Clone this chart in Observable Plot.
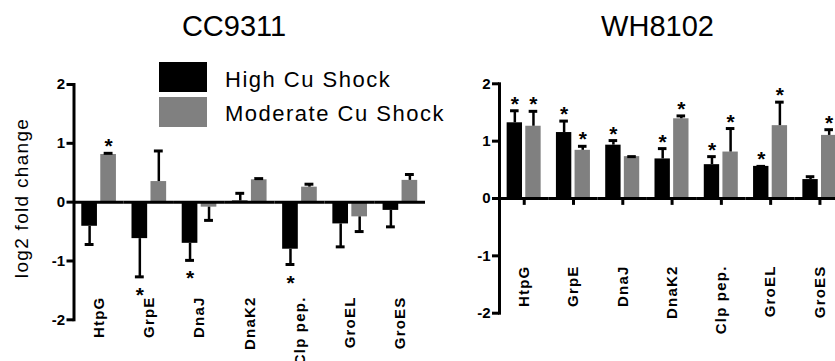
<!DOCTYPE html>
<html><head><meta charset="utf-8">
<script src="https://cdn.jsdelivr.net/npm/d3@7"></script>
<script src="https://cdn.jsdelivr.net/npm/@observablehq/plot@0.6"></script>
<style>
html,body{margin:0;padding:0;background:#fff;overflow:hidden;width:835px;height:361px}
#root{position:relative;width:835px;height:361px;font-family:"Liberation Sans",Arial,Helvetica,sans-serif;color:#000;overflow:hidden}
.title{position:absolute;width:240px;text-align:center;font-size:29px;line-height:29px;top:11.5px;white-space:nowrap}
.sw{position:absolute;left:159px;width:48px;height:30px;box-sizing:border-box}
.lt{position:absolute;left:225px;font-size:22px;line-height:22px;letter-spacing:1.5px;white-space:nowrap;z-index:2}
.ylab{position:absolute;width:200px;height:24px;line-height:24px;font-size:19px;letter-spacing:1.3px;text-align:center;transform:rotate(-90deg);white-space:nowrap}
svg.panel{position:absolute;top:50px}
</style></head>
<body><div id="root"></div>
<script>
const genes = ["HtpG", "GrpE", "DnaJ", "DnaK2", "Clp pep.", "GroEL", "GroES"];
const series = ["High Cu Shock", "Moderate Cu Shock"];
const colors = ["#000000", "#808080"];
const yTicks = [-2, -1, 0, 1, 2];
const yLabel = "log2 fold change";
const titles = ["CC9311", "WH8102"];

// CC9311
const ccHigh = [-0.41, -0.62, -0.70, 0.02, -0.80, -0.37, -0.14];
const ccHighErr = [0.31, 0.65, 0.29, 0.13, 0.26, 0.39, 0.28];
const ccMod = [0.81, 0.35, -0.085, 0.38, 0.255, -0.25, 0.37];
const ccModErr = [0.02, 0.52, 0.225, 0.02, 0.05, 0.25, 0.10];
const ccHighSig = [false, true, true, false, true, false, false];
const ccModSig = [true, false, false, false, false, false, false];

// WH8102
const whHigh = [1.32, 1.15, 0.93, 0.69, 0.59, 0.56, 0.33];
const whHighErr = [0.21, 0.20, 0.08, 0.18, 0.14, 0.0, 0.05];
const whMod = [1.26, 0.84, 0.73, 1.39, 0.81, 1.27, 1.10];
const whModErr = [0.26, 0.07, 0.0, 0.05, 0.41, 0.41, 0.10];
const whHighSig = [true, true, true, true, true, true, false];
const whModSig = [true, true, false, true, true, true, true];

const FONT = '"Liberation Sans", Arial, Helvetica, sans-serif';
const root = document.getElementById("root");
const groupTickDepth = 0.12; // depth of the category ticks below the zero line, in axis units

function panel(p) {
  const rows = [];
  genes.forEach((g, i) => {
    series.forEach((s, j) => {
      const v = p.values[j][i], e = p.errs[j][i];
      rows.push({gene: g, series: s, value: v, end: v >= 0 ? v + e : v - e, sig: p.sigs[j][i]});
    });
  });
  const up = rows.filter(d => d.sig && d.value >= 0);
  const down = rows.filter(d => d.sig && d.value < 0);
  const marks = [
    Plot.barY(rows, {fx: "gene", x: "series", y: "value", fill: "series"}),
    Plot.ruleX(rows, {fx: "gene", x: "series", y1: "value", y2: "end", stroke: "#000", strokeWidth: 2.5}),
    Plot.tickY(rows, {fx: "gene", x: "series", y: "end", stroke: "#000", strokeWidth: 3, insetLeft: 3.4, insetRight: 3.4}),
    Plot.ruleY([0], {stroke: "#000", strokeWidth: 3})
  ];
  if (p.groupTicks) marks.push(Plot.ruleX(rows.filter(d => d.series === series[0]),
    {fx: "gene", x: "series", dx: 9.4, y1: 0, y2: -groupTickDepth, stroke: "#000", strokeWidth: 3}));
  marks.push(
    Plot.text(up, {fx: "gene", x: "series", y: "end", text: () => "*", fill: "#000", fontSize: 21, fontWeight: "bold", lineAnchor: "bottom"}),
    Plot.text(down, {fx: "gene", x: "series", y: "end", text: () => "*", fill: "#000", fontSize: 21, fontWeight: "bold", lineAnchor: "bottom", dy: 25}),
    Plot.text(genes, {fx: d => d, text: d => d, fill: "#000", frameAnchor: "bottom", dy: p.labelDy, rotate: -90, textAnchor: "end", lineAnchor: "middle", fontSize: 15, fontWeight: "bold"}),
    Plot.axisY({ticks: yTicks, tickFormat: d => String(d), tickSize: 7, tickPadding: 2, stroke: "#000", strokeWidth: 3, fill: "#000", fontSize: 15, fontWeight: "bold", label: null}),
    Plot.frame({anchor: "left", stroke: "#000", strokeWidth: 3, facetAnchor: "left"})
  );
  const svg = Plot.plot({
    width: p.width, height: p.height,
    marginLeft: p.marginLeft, marginRight: p.marginRight, marginTop: p.marginTop, marginBottom: p.marginBottom,
    style: {fontFamily: FONT, fontSize: "15px", background: "transparent", color: "#000"},
    fx: {domain: genes, padding: 0, round: false, axis: null},
    x: {domain: series, paddingInner: 0.175, paddingOuter: 0.41, round: false, axis: null},
    y: {domain: [-2, 2]},
    color: {domain: series, range: colors},
    marks
  });
  // enforce typography on every svg text
  svg.querySelectorAll("text").forEach(t => {
    const s = t.textContent;
    t.style.fontWeight = "700";
    t.style.fontFamily = FONT;
    t.style.fill = "#000";
    if (s === "*") t.style.fontSize = "21px";
    else if (genes.includes(s)) { t.style.fontSize = "15px"; t.style.letterSpacing = "1.2px"; t.style.textAnchor = "end"; }
    else t.style.fontSize = "15px";
  });
  svg.classList.add("panel");
  svg.style.left = p.left + "px";
  root.appendChild(svg);
}

panel({left: 0, width: 440, height: 311, marginLeft: 73.5, marginRight: 15, marginTop: 34, marginBottom: 41.7,
  labelDy: -23.3, groupTicks: false,
  values: [ccHigh, ccMod], errs: [ccHighErr, ccModErr], sigs: [ccHighSig, ccModSig]});
panel({left: 420, width: 424, height: 311, marginLeft: 79, marginRight: 0, marginTop: 33.3, marginBottom: 48.3,
  labelDy: -47.7, groupTicks: true,
  values: [whHigh, whMod], errs: [whHighErr, whModErr], sigs: [whHighSig, whModSig]});

// titles
[[114, titles[0]], [537.5, titles[1]]].forEach(([x, t]) => {
  const d = document.createElement("div");
  d.className = "title"; d.style.left = x + "px"; d.textContent = t;
  root.appendChild(d);
});
// legend
series.forEach((s, i) => {
  const sw = document.createElement("div");
  sw.className = "sw"; sw.style.top = (i === 0 ? 62.3 : 96.7) + "px"; sw.style.background = colors[i];
  if (i === 1) sw.style.height = "30.6px";
  root.appendChild(sw);
  const lt = document.createElement("div");
  lt.className = "lt"; lt.style.top = (i === 0 ? 68.7 : 103.1) + "px"; lt.textContent = s;
  root.appendChild(lt);
});
// y label
const yl = document.createElement("div");
yl.className = "ylab"; yl.style.left = (21.6 - 100) + "px"; yl.style.top = (197.5 - 12) + "px"; yl.textContent = yLabel;
root.appendChild(yl);
</script>
</body></html>
